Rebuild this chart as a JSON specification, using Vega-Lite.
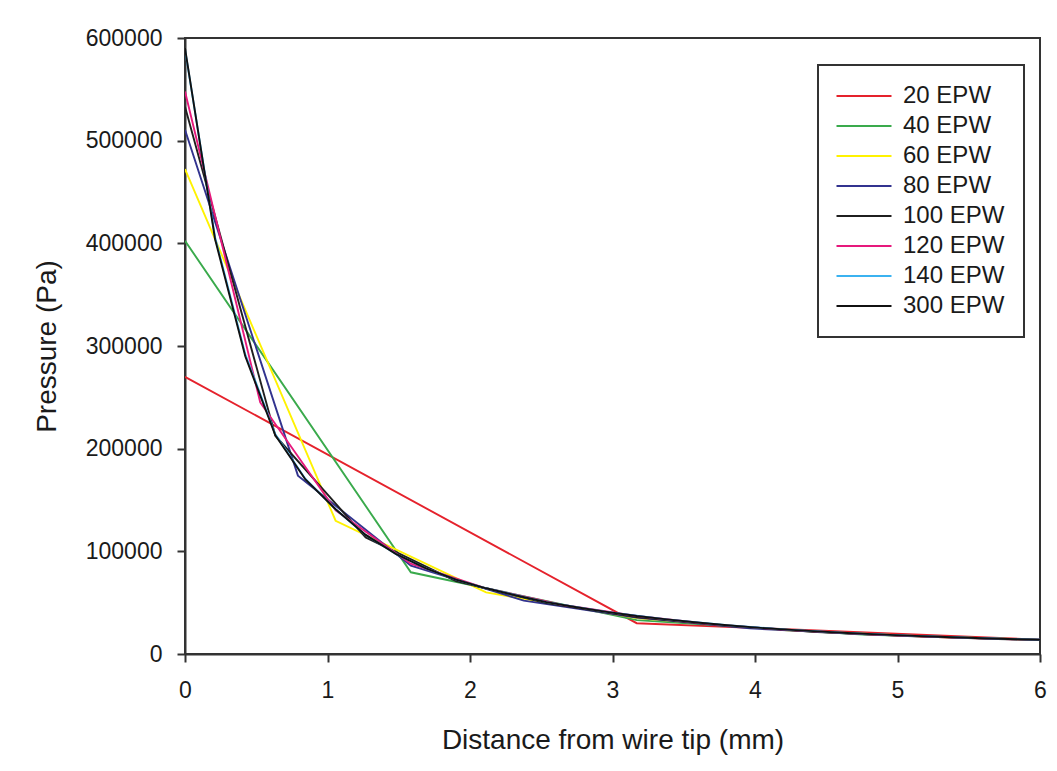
{
  "$schema": "https://vega.github.io/schema/vega-lite/v6.json",
  "width": 855,
  "height": 616,
  "autosize": {"type": "none"},
  "padding": {"left": 185, "top": 38, "right": 17, "bottom": 117},
  "background": "white",
  "config": {
    "font": "Liberation Sans",
    "view": {"stroke": "#333333", "strokeWidth": 2},
    "axis": {
      "grid": false,
      "domainColor": "#333333",
      "domainWidth": 2,
      "tickColor": "#333333",
      "tickWidth": 2,
      "tickSize": 8,
      "labelFont": "Liberation Sans",
      "labelFontSize": 23,
      "labelColor": "#1a1a1a",
      "titleFont": "Liberation Sans",
      "titleFontSize": 28,
      "titleFontWeight": "normal",
      "titleColor": "#1a1a1a"
    },
    "legend": {
      "labelFont": "Liberation Sans",
      "labelFontSize": 24,
      "labelColor": "#1a1a1a"
    }
  },
  "data": {
    "values": [
      {"s": "20 EPW", "x": 0, "p": 270000},
      {"s": "20 EPW", "x": 3.17, "p": 30000},
      {"s": "20 EPW", "x": 6.34, "p": 12000},

      {"s": "40 EPW", "x": 0, "p": 402500},
      {"s": "40 EPW", "x": 1.585, "p": 79600},
      {"s": "40 EPW", "x": 3.17, "p": 33000},
      {"s": "40 EPW", "x": 4.755, "p": 19000},
      {"s": "40 EPW", "x": 6.34, "p": 12300},

      {"s": "60 EPW", "x": 0, "p": 472400},
      {"s": "60 EPW", "x": 1.057, "p": 129800},
      {"s": "60 EPW", "x": 2.113, "p": 60000},
      {"s": "60 EPW", "x": 3.17, "p": 35000},
      {"s": "60 EPW", "x": 4.227, "p": 23000},
      {"s": "60 EPW", "x": 5.283, "p": 16500},
      {"s": "60 EPW", "x": 6.34, "p": 12500},

      {"s": "80 EPW", "x": 0, "p": 510700},
      {"s": "80 EPW", "x": 0.7925, "p": 173700},
      {"s": "80 EPW", "x": 1.585, "p": 86000},
      {"s": "80 EPW", "x": 2.3775, "p": 52000},
      {"s": "80 EPW", "x": 3.17, "p": 35500},
      {"s": "80 EPW", "x": 3.9625, "p": 25000},
      {"s": "80 EPW", "x": 4.755, "p": 19500},
      {"s": "80 EPW", "x": 5.5475, "p": 15500},
      {"s": "80 EPW", "x": 6.34, "p": 12800},

      {"s": "100 EPW", "x": 0, "p": 533000},
      {"s": "100 EPW", "x": 0.634, "p": 212600},
      {"s": "100 EPW", "x": 1.268, "p": 113600},
      {"s": "100 EPW", "x": 1.902, "p": 71000},
      {"s": "100 EPW", "x": 2.536, "p": 49500},
      {"s": "100 EPW", "x": 3.17, "p": 36000},
      {"s": "100 EPW", "x": 3.804, "p": 27500},
      {"s": "100 EPW", "x": 4.438, "p": 21500},
      {"s": "100 EPW", "x": 5.072, "p": 17500},
      {"s": "100 EPW", "x": 5.706, "p": 14600},
      {"s": "100 EPW", "x": 6.34, "p": 12600},

      {"s": "120 EPW", "x": 0, "p": 548000},
      {"s": "120 EPW", "x": 0.528, "p": 245000},
      {"s": "120 EPW", "x": 1.057, "p": 140000},
      {"s": "120 EPW", "x": 1.585, "p": 88000},
      {"s": "120 EPW", "x": 2.113, "p": 64000},
      {"s": "120 EPW", "x": 2.642, "p": 48000},
      {"s": "120 EPW", "x": 3.17, "p": 37000},
      {"s": "120 EPW", "x": 3.698, "p": 29000},
      {"s": "120 EPW", "x": 4.227, "p": 23500},
      {"s": "120 EPW", "x": 4.755, "p": 19500},
      {"s": "120 EPW", "x": 5.283, "p": 16500},
      {"s": "120 EPW", "x": 5.812, "p": 14300},
      {"s": "120 EPW", "x": 6.34, "p": 12700},

      {"s": "140 EPW", "x": 0, "p": 589000},
      {"s": "140 EPW", "x": 0.211, "p": 406000},
      {"s": "140 EPW", "x": 0.423, "p": 292000},
      {"s": "140 EPW", "x": 0.634, "p": 214000},
      {"s": "140 EPW", "x": 0.845, "p": 170500},
      {"s": "140 EPW", "x": 1.057, "p": 141000},
      {"s": "140 EPW", "x": 1.268, "p": 116000},
      {"s": "140 EPW", "x": 1.479, "p": 97500},
      {"s": "140 EPW", "x": 1.691, "p": 83500},
      {"s": "140 EPW", "x": 1.902, "p": 72500},
      {"s": "140 EPW", "x": 2.113, "p": 64000},
      {"s": "140 EPW", "x": 2.536, "p": 50500},
      {"s": "140 EPW", "x": 2.959, "p": 41000},
      {"s": "140 EPW", "x": 3.381, "p": 33700},
      {"s": "140 EPW", "x": 3.804, "p": 28000},
      {"s": "140 EPW", "x": 4.227, "p": 23700},
      {"s": "140 EPW", "x": 4.649, "p": 20500},
      {"s": "140 EPW", "x": 5.072, "p": 17900},
      {"s": "140 EPW", "x": 5.494, "p": 15800},
      {"s": "140 EPW", "x": 5.917, "p": 14100},
      {"s": "140 EPW", "x": 6.34, "p": 12700},

      {"s": "300 EPW", "x": 0, "p": 590000},
      {"s": "300 EPW", "x": 0.211, "p": 404000},
      {"s": "300 EPW", "x": 0.423, "p": 290000},
      {"s": "300 EPW", "x": 0.634, "p": 213000},
      {"s": "300 EPW", "x": 0.845, "p": 170000},
      {"s": "300 EPW", "x": 1.057, "p": 141000},
      {"s": "300 EPW", "x": 1.268, "p": 116000},
      {"s": "300 EPW", "x": 1.479, "p": 97500},
      {"s": "300 EPW", "x": 1.691, "p": 83500},
      {"s": "300 EPW", "x": 1.902, "p": 72500},
      {"s": "300 EPW", "x": 2.113, "p": 64000},
      {"s": "300 EPW", "x": 2.325, "p": 57000},
      {"s": "300 EPW", "x": 2.536, "p": 50500},
      {"s": "300 EPW", "x": 2.747, "p": 45500},
      {"s": "300 EPW", "x": 2.959, "p": 41000},
      {"s": "300 EPW", "x": 3.17, "p": 37000},
      {"s": "300 EPW", "x": 3.381, "p": 33700},
      {"s": "300 EPW", "x": 3.593, "p": 30700},
      {"s": "300 EPW", "x": 3.804, "p": 28000},
      {"s": "300 EPW", "x": 4.015, "p": 25700},
      {"s": "300 EPW", "x": 4.227, "p": 23700},
      {"s": "300 EPW", "x": 4.438, "p": 22000},
      {"s": "300 EPW", "x": 4.649, "p": 20500},
      {"s": "300 EPW", "x": 4.861, "p": 19100},
      {"s": "300 EPW", "x": 5.072, "p": 17900},
      {"s": "300 EPW", "x": 5.283, "p": 16800},
      {"s": "300 EPW", "x": 5.494, "p": 15800},
      {"s": "300 EPW", "x": 5.706, "p": 14900},
      {"s": "300 EPW", "x": 5.917, "p": 14100},
      {"s": "300 EPW", "x": 6.128, "p": 13400},
      {"s": "300 EPW", "x": 6.34, "p": 12700}
    ]
  },
  "mark": {"type": "line", "clip": true, "strokeWidth": 1.9},
  "encoding": {
    "x": {
      "field": "x",
      "type": "quantitative",
      "scale": {"domain": [0, 6], "nice": false, "zero": false},
      "axis": {
        "title": "Distance from wire tip (mm)",
        "values": [0, 1, 2, 3, 4, 5, 6],
        "format": "d",
        "labelPadding": 17,
        "titlePadding": 24,
        "labelFlush": false
      }
    },
    "y": {
      "field": "p",
      "type": "quantitative",
      "scale": {"domain": [0, 600000], "nice": false},
      "axis": {
        "title": "Pressure (Pa)",
        "values": [0, 100000, 200000, 300000, 400000, 500000, 600000],
        "format": "d",
        "labelPadding": 15,
        "titlePadding": 24,
        "labelFlush": false
      }
    },
    "color": {
      "field": "s",
      "type": "nominal",
      "sort": ["20 EPW", "40 EPW", "60 EPW", "80 EPW", "100 EPW", "120 EPW", "140 EPW", "300 EPW"],
      "scale": {
        "domain": ["20 EPW", "40 EPW", "60 EPW", "80 EPW", "100 EPW", "120 EPW", "140 EPW", "300 EPW"],
        "range": ["#e5222c", "#3aaa4c", "#fff200", "#32338f", "#1f1f1f", "#e6197c", "#3bb2f0", "#111111"]
      },
      "legend": {
        "title": null,
        "orient": "none",
        "legendX": 633,
        "legendY": 27,
        "padding": 19,
        "strokeColor": "#333333",
        "symbolType": "M-3,0H3",
        "symbolSize": 336,
        "symbolStrokeWidth": 2,
        "symbolOffset": 15,
        "rowPadding": 6,
        "labelOffset": 27,
        "labelFontSize": 24,
        "encode": {"legend": {"update": {"strokeWidth": {"value": 2}}}}
      }
    }
  }
}
